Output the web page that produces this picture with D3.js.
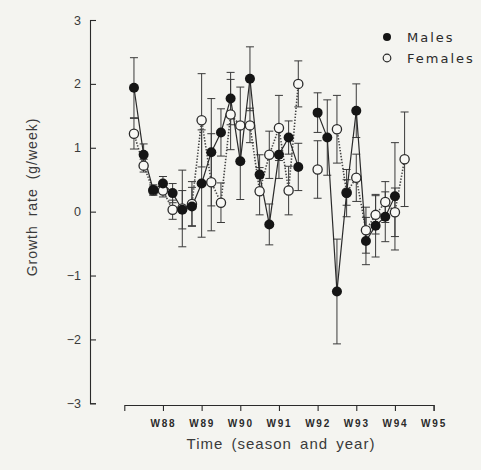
<!DOCTYPE html>
<html>
<head>
<meta charset="utf-8">
<script src="https://cdn.jsdelivr.net/npm/d3@7"></script>
<style>
  body { margin: 0; background: #f4f4f0; }
  svg { display: block; }
</style>
</head>
<body>
<script>
// quarterly samples, q = quarters after winter 1987
var quarters = [1,2,3,4,5,6,7,8,9,10,11,12,13,14,15,16,17,18,19,20,21,22,23,24,25,26,27,28,29];
var males    = [1.94,0.89,0.34,0.44,0.29,0.03,0.08,0.44,0.93,1.24,1.77,0.79,2.08,0.58,-0.20,0.89,1.16,0.70,null,1.55,1.16,-1.25,0.29,1.58,-0.46,-0.22,-0.08,0.24,null];
var maleErr  = [0.47,0.17,0.08,0.11,0.15,0.30,0.30,0.84,0.84,0.37,0.41,0.60,0.50,0.31,0.32,0.37,0.26,0.37,null,0.31,0.59,0.82,0.37,0.42,0.37,0.49,0.39,0.84,null];
var females  = [1.22,0.72,0.33,0.33,0.03,0.05,0.12,1.43,0.46,0.14,1.52,1.35,1.35,0.32,0.89,1.31,0.33,2.00,null,0.66,null,1.29,0.30,0.53,-0.29,-0.05,0.15,-0.01,0.82];
var femErr   = [0.24,0.10,0.07,0.10,0.15,0.60,0.35,0.73,0.76,0.31,0.55,0.60,0.27,0.37,0.37,0.51,0.38,0.36,null,0.45,null,0.53,0.20,0.37,0.36,0.30,0.32,0.38,0.74];
var yTicks = [-3,-2,-1,0,1,2,3];
var xTickQ = [4,8,12,16,20,24,28,32];
var xTickLabels = ["W88","W89","W90","W91","W92","W93","W94","W95"];

var W = 481, H = 470;
var svg = d3.select("body").append("svg").attr("width", W).attr("height", H);

var x = d3.scaleLinear().domain([0, 32]).range([124.3, 433.6]);
var y = d3.scaleLinear().domain([-3, 3]).range([403.3, 20]);

var ink = "#2a2a2a";

// y axis
var yAxis = d3.axisLeft(y).tickValues(yTicks)
  .tickSizeInner(-6).tickSizeOuter(-6).tickPadding(9)
  .tickFormat(function(d) { return d < 0 ? "\u2212" + Math.abs(d) : d; });
var gy = svg.append("g").attr("transform", "translate(90,0)").call(yAxis);
gy.selectAll("path,line").attr("stroke", ink).attr("stroke-width", 1.1);
gy.selectAll("text").attr("fill", "#3a3a3a")
  .style("font-family", "Liberation Sans, Arial, sans-serif").style("font-size", "12.5px");

// x axis
var xAxis = d3.axisBottom(x).tickValues(xTickQ)
  .tickSizeInner(6).tickSizeOuter(6).tickPadding(9)
  .tickFormat(function(d, i) { return xTickLabels[i]; });
var gx = svg.append("g").attr("transform", "translate(0,405)").call(xAxis);
gx.selectAll("path,line").attr("stroke", ink).attr("stroke-width", 1.1);
gx.selectAll("text").attr("fill", "#2a2a2a")
  .style("font-family", "Liberation Sans, Arial, sans-serif").style("font-size", "10px")
  .style("font-weight", "bold").style("letter-spacing", "1.8px");

// axis titles
svg.append("text")
  .attr("transform", "translate(37,197) rotate(-90)")
  .attr("text-anchor", "middle")
  .attr("fill", "#3a3a3a")
  .style("font-family", "Liberation Sans, Arial, sans-serif").style("font-size", "14px")
  .style("letter-spacing", "1px").style("word-spacing", "4px")
  .text("Growth rate (g/week)");

svg.append("text")
  .attr("x", 281).attr("y", 449)
  .attr("text-anchor", "middle")
  .attr("fill", "#3a3a3a")
  .style("font-family", "Liberation Sans, Arial, sans-serif").style("font-size", "15px")
  .style("letter-spacing", "1px").style("word-spacing", "3px")
  .text("Time (season and year)");

function rows(vals, errs) {
  return quarters.map(function(q, i) { return {q: q, v: vals[i], e: errs[i]}; });
}
var maleData = rows(males, maleErr);
var femData = rows(females, femErr);

function drawBars(data) {
  var g = svg.append("g").attr("stroke", "#3a3a3a").attr("stroke-width", 1);
  var d = data.filter(function(r) { return r.v != null && r.e != null; });
  g.selectAll(".v").data(d).enter().append("line")
    .attr("x1", function(r) { return x(r.q); }).attr("x2", function(r) { return x(r.q); })
    .attr("y1", function(r) { return y(r.v + r.e); }).attr("y2", function(r) { return y(r.v - r.e); });
  [1, -1].forEach(function(s) {
    g.selectAll(".c" + s).data(d).enter().append("line")
      .attr("x1", function(r) { return x(r.q) - 4; }).attr("x2", function(r) { return x(r.q) + 4; })
      .attr("y1", function(r) { return y(r.v + s * r.e); }).attr("y2", function(r) { return y(r.v + s * r.e); });
  });
}
drawBars(femData);
drawBars(maleData);

var line = d3.line()
  .defined(function(r) { return r.v != null; })
  .x(function(r) { return x(r.q); })
  .y(function(r) { return y(r.v); });

svg.append("path").datum(femData).attr("d", line)
  .attr("fill", "none").attr("stroke", "#444").attr("stroke-width", 1.6)
  .attr("stroke-dasharray", "1.4,1.6");
svg.append("path").datum(maleData).attr("d", line)
  .attr("fill", "none").attr("stroke", ink).attr("stroke-width", 1.2);

svg.selectAll(".fem").data(femData.filter(function(r) { return r.v != null; }))
  .enter().append("circle")
  .attr("cx", function(r) { return x(r.q); }).attr("cy", function(r) { return y(r.v); })
  .attr("r", 4.6).attr("fill", "#f8f8f5").attr("stroke", ink).attr("stroke-width", 1.3);
svg.selectAll(".male").data(maleData.filter(function(r) { return r.v != null; }))
  .enter().append("circle")
  .attr("cx", function(r) { return x(r.q); }).attr("cy", function(r) { return y(r.v); })
  .attr("r", 5).attr("fill", "#151515");

// legend
var legend = svg.append("g");
legend.append("circle").attr("cx", 387).attr("cy", 37).attr("r", 4).attr("fill", "#151515");
legend.append("circle").attr("cx", 387).attr("cy", 58).attr("r", 3.8)
  .attr("fill", "none").attr("stroke", ink).attr("stroke-width", 1.2);
legend.selectAll("text").data(["Males", "Females"]).enter().append("text")
  .attr("x", 407).attr("y", function(d, i) { return 42 + i * 21; })
  .attr("fill", "#2a2a2a")
  .style("font-family", "DejaVu Sans, sans-serif").style("font-size", "13px")
  .style("letter-spacing", "2px")
  .text(function(d) { return d; });
</script>
</body>
</html>
